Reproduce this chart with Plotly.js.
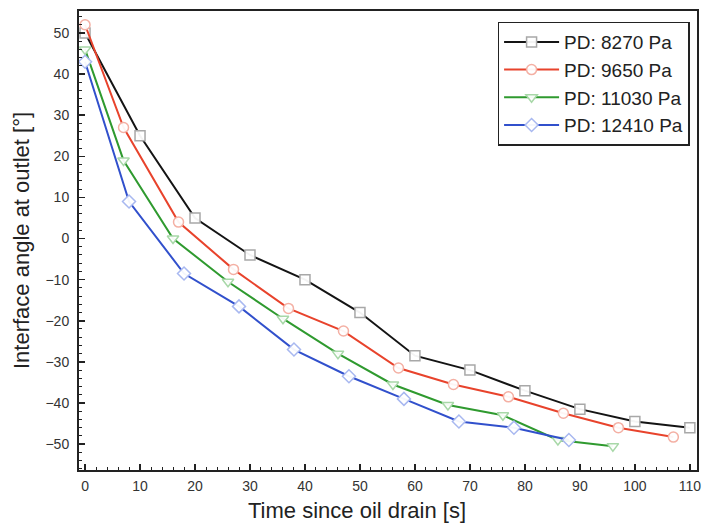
<!DOCTYPE html>
<html>
<head>
<meta charset="utf-8">
<script src="https://cdn.plot.ly/plotly-3.0.1.min.js"></script>
<style>html,body{margin:0;padding:0;background:#fff;}#chart{width:706px;height:532px;}</style>
</head>
<body>
<div id="chart"></div>
<script>
// Series names
const seriesNames = ["PD: 8270 Pa", "PD: 9650 Pa", "PD: 11030 Pa", "PD: 12410 Pa"];
// Axis titles
const xTitle = "Time since oil drain [s]";
const yTitle = "Interface angle at outlet [°]";
// Time [s]
const tBlack = [0, 10, 20, 30, 40, 50, 60, 70, 80, 90, 100, 110];
const tRed   = [0, 7, 17, 27, 37, 47, 57, 67, 77, 87, 97, 107];
const tGreen = [0, 7, 16, 26, 36, 46, 56, 66, 76, 86, 96];
const tBlue  = [0, 8, 18, 28, 38, 48, 58, 68, 78, 88];
// Interface angle [°]
const aBlack = [50, 25, 5, -4, -10, -18, -28.5, -32, -37, -41.5, -44.5, -46];
const aRed   = [52, 27, 4, -7.5, -17, -22.5, -31.5, -35.5, -38.5, -42.5, -46, -48.3];
const aGreen = [46, 19, 0, -10.5, -19.5, -28, -35.5, -40.5, -43, -49, -50.5];
const aBlue  = [43, 9, -8.5, -16.5, -27, -33.5, -39, -44.5, -46, -49];

const lineColors = ["#141414", "#e8432c", "#2f9a2f", "#3150cc"];
const markEdge = ["#a8a8a8", "#f4b0a4", "#a8d8a8", "#a8b8f0"];
const symbols = ["square", "circle", "triangle-down", "diamond"];
const xs = [tBlack, tRed, tGreen, tBlue];
const ys = [aBlack, aRed, aGreen, aBlue];

const traces = xs.map((x, i) => ({
  x: x, y: ys[i], name: seriesNames[i], type: "scatter", mode: "lines+markers",
  line: {color: lineColors[i], width: 2},
  marker: {symbol: symbols[i], size: 10, color: "rgba(255,255,255,0.95)", line: {color: markEdge[i], width: 1.5}}
}));

const font = "Liberation Sans, Arial, sans-serif";
const layout = {
  width: 706, height: 532,
  margin: {l: 79, r: 9, t: 11, b: 62},
  paper_bgcolor: "#fff", plot_bgcolor: "#fff",
  showlegend: true,
  legend: {
    x: 0.988, y: 0.977, xanchor: "right", yanchor: "top",
    bgcolor: "#fff", bordercolor: "#222", borderwidth: 1.5,
    font: {family: font, size: 19, color: "#222"},
    tracegroupgap: 0, itemwidth: 55
  },
  annotations: [{
    text: xTitle, xref: "paper", yref: "paper", x: 0.45, y: -0.0893,
    xanchor: "center", yanchor: "middle", showarrow: false,
    font: {family: font, size: 22, color: "#222"}
  }],
  xaxis: {
    range: [-1.1, 111.3], dtick: 10, tick0: 0,
    ticks: "inside", ticklen: 6, tickwidth: 1.5, tickcolor: "#222",
    minor: {dtick: 2, ticks: "inside", ticklen: 3, tickcolor: "#222", tickwidth: 1},
    showline: true, linecolor: "#222", linewidth: 2, mirror: true,
    showgrid: false, zeroline: false,
    tickfont: {family: font, size: 14, color: "#333"},
    ticklabelstandoff: 2
  },
  yaxis: {
    range: [-56.3, 55.35], dtick: 10, tick0: 0,
    ticks: "inside", ticklen: 6, tickwidth: 1.5, tickcolor: "#222",
    minor: {dtick: 2, ticks: "inside", ticklen: 3, tickcolor: "#222", tickwidth: 1},
    showline: true, linecolor: "#222", linewidth: 2, mirror: true,
    showgrid: false, zeroline: false,
    tickfont: {family: font, size: 14, color: "#333"},
    ticklabelstandoff: 5,
    title: {text: yTitle, font: {family: font, size: 22, color: "#222"}, standoff: 10}
  }
};

Plotly.newPlot("chart", traces, layout, {displayModeBar: false, staticPlot: true});
</script>
</body>
</html>
